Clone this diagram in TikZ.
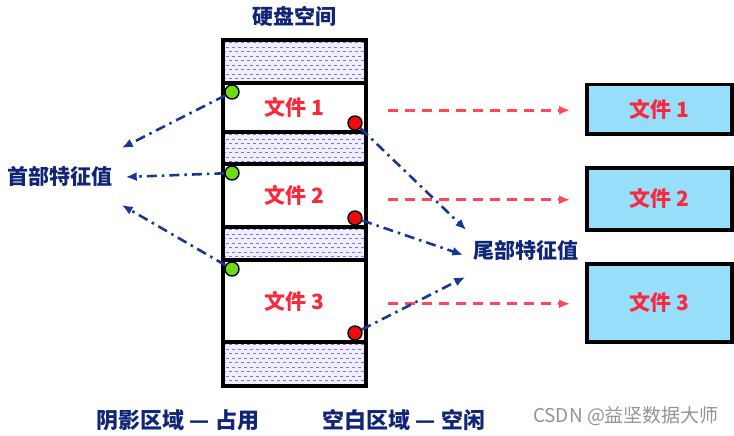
\documentclass[tikz,border=0pt]{standalone}
\usepackage{fontspec}
\newfontfamily\cjk{Noto Sans CJK SC}
\usetikzlibrary{arrows.meta, positioning, calc}
\definecolor{navy}{RGB}{16,36,120}
\definecolor{featblue}{RGB}{25,55,150}
\definecolor{fred}{RGB}{250,40,60}
\definecolor{fwdred}{RGB}{255,70,90}
\definecolor{cyanbox}{RGB}{150,222,250}
\definecolor{lav}{RGB}{240,238,255}
\definecolor{hatchc}{RGB}{125,115,235}
\definecolor{dotgreen}{RGB}{110,220,20}
\definecolor{dotred}{RGB}{240,10,10}

\begin{document}
\begin{tikzpicture}[x=1pt, y=-1pt, font=\cjk\bfseries,
  seg/.style={draw, line width=3.5pt, minimum width=143pt, inner sep=0pt, outer sep=0pt},
  hatch/.style={draw=hatchc, line width=0.9pt, dash pattern=on 3pt off 3pt},
  used/.style={seg, fill=lav, path picture={
      \foreach \k in {0,...,9}{
        \draw[hatch] ([yshift=-2.5-\k*9]path picture bounding box.north west) -- ++(160,0);
        \draw[hatch, dash phase=3pt] ([yshift=-7-\k*9]path picture bounding box.north west) -- ++(160,0);
      }}},
  fil/.style={seg, fill=white, text=fred, font=\cjk\bfseries\fontsize{21}{21}\selectfont},
  box/.style={draw, line width=3.5pt, fill=cyanbox, anchor=north west, minimum width=145pt,
              inner sep=0pt, text=fred, font=\cjk\bfseries\fontsize{21}{21}\selectfont},
  dot/.style={circle, draw, line width=1.4pt, minimum size=14pt, inner sep=0pt},
  hd/.style={dot, fill=dotgreen},
  tl/.style={dot, fill=dotred},
  lbl/.style={text=navy, inner sep=1pt, font=\cjk\bfseries\fontsize{21}{21}\selectfont},
  feat/.style={-{Latex[length=11pt, width=9pt]}, line width=2.6pt, draw=featblue,
               dash pattern=on 10pt off 5pt on 2.5pt off 5pt},
  fwd/.style={-{Latex[length=11pt, width=9pt]}, line width=2.8pt, draw=fwdred,
              dash pattern=on 10pt off 7pt},
  wmark/.style={text=gray!85, font=\cjk\fontsize{19}{19}\selectfont}]
  \useasboundingbox (0,0) rectangle (734,436);
  % ---- the disk: shaded parts are taken, the white ones hold the files
  \node[lbl] (disk) at (294,16) {硬盘空间};
  \node[used, anchor=north west, minimum height=43pt] (s1) at (223,40) {};
  \node[fil, below=0pt of s1, minimum height=49pt] (f1) {文件 1};
  \node[used, below=0pt of f1, minimum height=32pt] (s2) {};
  \node[fil, below=0pt of s2, minimum height=63pt] (f2) {文件 2};
  \node[used, below=0pt of f2, minimum height=33pt] (s3) {};
  \node[fil, below=0pt of s3, minimum height=82pt] (f3) {文件 3};
  \node[used, below=0pt of f3, minimum height=44pt] (s4) {};
  % ---- copies of the files on the right
  \node[box, minimum height=49pt] (c1) at (585,83)  {文件 1};
  \node[box, minimum height=62pt] (c2) at (585,166) {文件 2};
  \node[box, minimum height=78pt] (c3) at (585,262) {文件 3};
  \foreach \i in {1,2,3}
    \draw[fwd] ($(f\i.east |- c\i.west)+(22,1)$) -- ($(c\i.west)+(-15,1)$);
  % ---- head and tail marks of each file
  \foreach \i in {1,2,3}{
    \node[hd] (g\i) at ([shift={(9,9)}]f\i.north west) {};
    \node[tl] (r\i) at ([shift={(-11,-9)}]f\i.south east) {};
  }
  \node[lbl] (head) at (60,176)  {首部特征值};
  \node[lbl] (tail) at (526,250) {尾部特征值};
  \draw[feat] (g1) -- ([shift={(8,-28)}]head.east);
  \draw[feat] (g2) -- ([shift={(12,1)}]head.east);
  \draw[feat] (g3) -- ([shift={(8,29)}]head.east);
  \draw[feat] (r1) -- ([shift={(-6,-20)}]tail.west);
  \draw[feat] (r2) -- ([shift={(-9,5)}]tail.west);
  \draw[feat] (r3) -- ([shift={(-7,27)}]tail.west);
  % ---- legend
  \node[lbl, font=\cjk\bfseries\fontsize{22}{22}\selectfont] (usedn) at (178,420) {阴影区域 — 占用};
  \node[lbl, font=\cjk\bfseries\fontsize{22}{22}\selectfont] (freen) at (404,420) {空白区域 — 空闲};
  \node[wmark] (wm) at (626,416) {CSDN @益坚数据大师};
\end{tikzpicture}
\end{document}
